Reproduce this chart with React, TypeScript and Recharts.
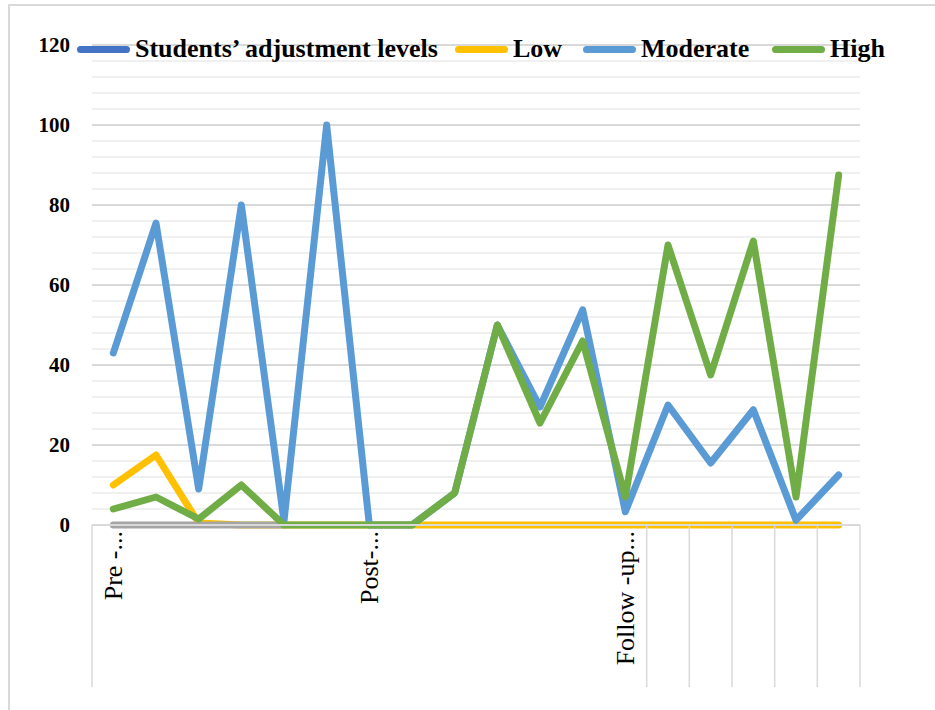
import React from "react";
import { ComposedChart, Line, XAxis, YAxis, CartesianGrid, ReferenceLine } from "recharts";

// category labels (Excel only shows every 6th one)
const xLabels = [
    "Pre -...", "", "", "", "", "",
    "Post-...", "", "", "", "", "",
    "Follow -up...", "", "", "", "", "",
];

const studentLevels: (number | null)[] = xLabels.map(() => null);
const lowValues = [10, 17.5, 0.5, 0, 0, 0, 0, 0, 0, 0, 0, 0, 0, 0, 0, 0, 0, 0];
const moderateValues = [43, 75.5, 9, 80, 1, 100, 0, 0, 8, 50, 29.5, 53.8, 3.3, 30, 15.5, 28.8, 1.2, 12.5];
const highValues = [4, 7, 1.5, 10, 0, 0, 0, 0, 8, 50, 25.5, 46, 7, 70, 37.5, 71, 7, 87.5];
const baselineValues: (number | null)[] = [0, 0, 0, 0, 0, null, null, null, null, null, null, null, null, null, null, null, null, null];

const yTicks = [0, 20, 40, 60, 80, 100, 120];
const minorTicks = [4, 8, 12, 16, 24, 28, 32, 36, 44, 48, 52, 56, 64, 68, 72, 76, 84, 88, 92, 96, 104, 108, 112, 116];

const chartData = xLabels.map((label, i) => ({
    cat: String(i),
    label,
    students: studentLevels[i],
    low: lowValues[i],
    moderate: moderateValues[i],
    high: highValues[i],
    base: baselineValues[i],
}));

const legendItems = [
    { name: "Students\u2019 adjustment levels", color: "#4472C4", left: 77 },
    { name: "Low", color: "#FFC000", left: 455 },
    { name: "Moderate", color: "#5B9BD5", left: 583 },
    { name: "High", color: "#70AD47", left: 772 },
];

const FONT = "'Liberation Serif', 'Times New Roman', serif";
const GRID_MAJOR = "#d9d9d9";
const GRID_MINOR = "#f0f0f0";

function CategoryTick(props: any) {
    const { x, y, payload } = props;
    const idx = Number(payload.value);
    const half = payload.offset ?? 768 / 36;
    const label = xLabels[idx];
    return (
        <g>
            {label && (
                <text
                    x={x}
                    y={y + 6}
                    transform={`rotate(-90, ${x}, ${y + 6})`}
                    textAnchor="end"
                    dy="0.35em"
                    fontFamily={FONT}
                    fontSize={26}
                    fill="#000"
                >
                    {label}
                </text>
            )}
            {idx === 0 && <line x1={x - half} x2={x - half} y1={y} y2={687} stroke={GRID_MAJOR} strokeWidth={1.5} />}
            {idx >= 12 && <line x1={x + half} x2={x + half} y1={y} y2={687} stroke={GRID_MAJOR} strokeWidth={1.5} />}
        </g>
    );
}

function ChartLegend() {
    return (
        <>
            {legendItems.map((item) => (
                <div
                    key={item.name}
                    style={{
                        position: "absolute",
                        top: 36,
                        left: item.left,
                        height: 26,
                        display: "flex",
                        alignItems: "center",
                        fontFamily: FONT,
                        fontWeight: "bold",
                        fontSize: 26,
                        lineHeight: "26px",
                        whiteSpace: "nowrap",
                    }}
                >
                    <span style={{ display: "inline-block", width: 53, height: 7, borderRadius: 4, background: item.color, marginRight: 5 }} />
                    <span>{item.name}</span>
                </div>
            ))}
        </>
    );
}

export default function App() {
    const lineProps = {
        type: "linear" as const,
        strokeWidth: 7,
        dot: false,
        activeDot: false,
        isAnimationActive: false,
        strokeLinecap: "round" as const,
        strokeLinejoin: "round" as const,
        connectNulls: false,
    };

    return (
        <div style={{ position: "absolute", left: 0, top: 0, width: 935, height: 710, background: "#fff", overflow: "hidden" }}>
            <div
                style={{
                    position: "absolute",
                    left: 8,
                    top: 4,
                    width: 940,
                    height: 720,
                    borderLeft: `2px solid ${GRID_MAJOR}`,
                    borderTop: `2px solid ${GRID_MAJOR}`,
                }}
            />
            <div style={{ position: "absolute", left: 0, top: 0 }}>
                <ComposedChart
                    width={935}
                    height={710}
                    data={chartData}
                    margin={{ top: 45, right: 75, left: 0, bottom: 0 }}
                >
                    {minorTicks.map((v) => (
                        <ReferenceLine key={v} y={v} stroke={GRID_MINOR} strokeWidth={2} ifOverflow="extendDomain" />
                    ))}
                    <CartesianGrid vertical={false} stroke={GRID_MAJOR} strokeWidth={2} />
                    <XAxis
                        dataKey="cat"
                        type="category"
                        scale="band"
                        height={185}
                        interval={0}
                        tickLine={false}
                        tickSize={0}
                        tickMargin={0}
                        axisLine={{ stroke: GRID_MAJOR, strokeWidth: 2 }}
                        tick={<CategoryTick />}
                    />
                    <YAxis
                        width={92}
                        domain={[0, 120]}
                        ticks={yTicks}
                        interval={0}
                        axisLine={false}
                        tickLine={false}
                        tickSize={0}
                        tickMargin={22}
                        tick={{ fontFamily: FONT, fontSize: 21, fontWeight: "bold", fill: "#000" }}
                    />

                    <Line {...lineProps} name="Students' adjustment levels" dataKey="students" stroke="#4472C4" />
                    <Line {...lineProps} name="Low" dataKey="low" stroke="#FFC000" />
                    <Line {...lineProps} name="baseline" dataKey="base" stroke="#A5A5A5" legendType="none" />
                    <Line {...lineProps} name="Moderate" dataKey="moderate" stroke="#5B9BD5" />
                    <Line {...lineProps} name="High" dataKey="high" stroke="#70AD47" />
                </ComposedChart>
            </div>
            <ChartLegend />
        </div>
    );
}
